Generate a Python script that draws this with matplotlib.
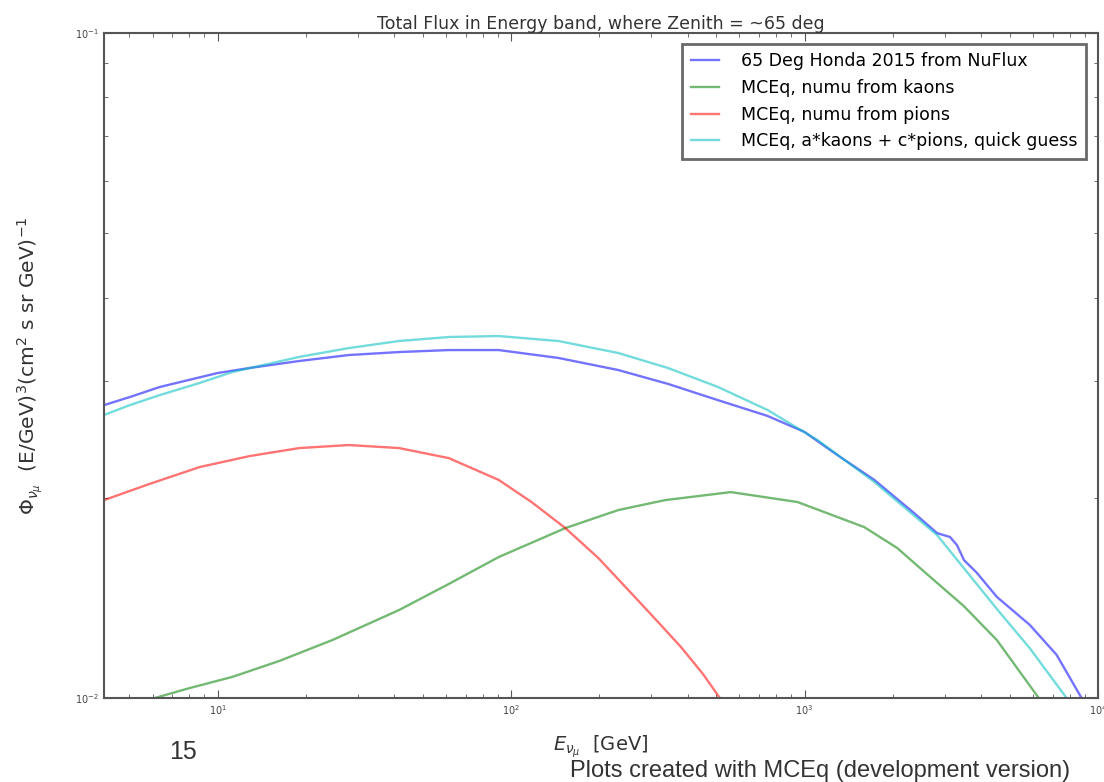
import numpy as np
import matplotlib
matplotlib.use("Agg")
import matplotlib.pyplot as plt
from matplotlib.ticker import LogLocator, NullFormatter

# energies [GeV] and E^3-weighted fluxes
honda_E = [4.10, 5.02, 6.36, 10, 12.85, 18.98, 28.0, 41.5, 61.3, 90.7, 145.0, 231.9,
           342.5, 506.6, 748.9, 1000, 1294, 1729, 2363, 2829, 3132, 3307, 3494, 3868,
           4523, 5855, 7229, 8790]
honda_flux = [0.02757, 0.02835, 0.02936, 0.03081, 0.03135, 0.03212, 0.03279, 0.03313,
              0.03336, 0.03336, 0.03246, 0.03113, 0.02967, 0.02805, 0.02655, 0.02512,
              0.02319, 0.02128, 0.01897, 0.01770, 0.01746, 0.01698, 0.01612, 0.01542,
              0.01419, 0.01288, 0.01161, 0.0100]

kaon_E = [6.11, 8.03, 11.24, 16.24, 24.58, 41.5, 61.3, 90.7, 153.1, 231.9, 334.6, 560.8,
          946.6, 1598, 2069, 2679, 3494, 4523, 6281]
kaon_flux = [0.0100, 0.01035, 0.01076, 0.01137, 0.01222, 0.01356, 0.01484, 0.01629,
             0.01801, 0.01917, 0.01984, 0.02040, 0.01971, 0.01807, 0.01681, 0.01521,
             0.01374, 0.01222, 0.0100]

pion_E = [4.10, 5.87, 8.69, 12.85, 18.98, 28.0, 41.5, 61.3, 90.7, 117.4, 153.1, 198.2,
          256.6, 316.8, 379.2, 450.4, 514.5]
pion_flux = [0.01984, 0.02099, 0.02225, 0.02311, 0.02376, 0.02401, 0.02376, 0.02295,
             0.02128, 0.01971, 0.01801, 0.01624, 0.01438, 0.01301, 0.01193, 0.01087,
             0.0100]

guess_E = [4.10, 5.02, 6.36, 8.69, 11.24, 18.98, 28.0, 41.5, 61.3, 90.7, 145.0, 231.9,
           342.5, 506.6, 748.9, 1107, 1729, 2829, 4523, 5855, 7816]
guess_flux = [0.02664, 0.02757, 0.02855, 0.02977, 0.03092, 0.03258, 0.03359, 0.03442,
              0.03490, 0.03502, 0.03442, 0.03302, 0.03135, 0.02936, 0.02710, 0.02443,
              0.02113, 0.01758, 0.01361, 0.01188, 0.0100]

labels = ["65 Deg Honda 2015 from NuFlux",
          "MCEq, numu from kaons",
          "MCEq, numu from pions",
          "MCEq, a*kaons + c*pions, quick guess"]

plt.rcParams['font.family'] = ['DejaVu Sans']
fig = plt.figure(figsize=(11.04, 7.82), dpi=100, facecolor='white')
ax = fig.add_axes([104 / 1104, 84 / 782, 994 / 1104, 665 / 782])

ax.plot(honda_E, honda_flux, color='b', alpha=0.55, linewidth=1.7, label=labels[0])
ax.plot(kaon_E, kaon_flux, color='g', alpha=0.55, linewidth=1.7, label=labels[1])
ax.plot(pion_E, pion_flux, color='r', alpha=0.55, linewidth=1.7, label=labels[2])
ax.plot(guess_E, guess_flux, color='c', alpha=0.55, linewidth=1.7, label=labels[3])

ax.set_xscale('log')
ax.set_yscale('log')
ax.set_xlim(4.1, 1e4)
ax.set_ylim(1e-2, 1e-1)
ax.yaxis.set_minor_formatter(NullFormatter())
ax.xaxis.set_minor_locator(LogLocator(base=10, subs=np.arange(2, 10)))

for s in ax.spines.values():
    s.set_color('#555555')
    s.set_linewidth(1.5)
ax.tick_params(which='both', direction='in', top=True, right=True, colors='#555555',
               labelcolor='#444444', labelsize=7)
ax.tick_params(which='major', length=6)
ax.tick_params(which='minor', length=3)

ax.set_title('Total Flux in Energy band, where Zenith = ~65 deg', fontsize=12.5,
             color='#333333', pad=3)
ax.set_xlabel(r'$E_{\nu_\mu}$  [GeV]', fontsize=14, color='#333333', labelpad=12)
ax.set_ylabel(r'$\Phi_{\nu_\mu}$  (E/GeV)$^3$(cm$^2$ s sr GeV)$^{-1}$', fontsize=14.5,
              color='#333333', labelpad=22)

leg = ax.legend(loc='upper right', fontsize=12.5, handlelength=1.6, handletextpad=1.3,
                borderpad=0.5, labelspacing=0.5, fancybox=False,
                bbox_to_anchor=(0.997, 0.997))
leg.get_frame().set_edgecolor('#444444')
leg.get_frame().set_linewidth(2)

fig.text(183 / 1104, 1 - 752 / 782, '15', fontsize=18, color='#333333',
         family=['Liberation Sans'], ha='center', va='center')
fig.text(820 / 1104, 1 - 771 / 782, 'Plots created with MCEq (development version)',
         fontsize=17, color='#333333', family=['Liberation Sans'], ha='center', va='center')

fig.savefig('out.png', dpi=100, facecolor='white')
